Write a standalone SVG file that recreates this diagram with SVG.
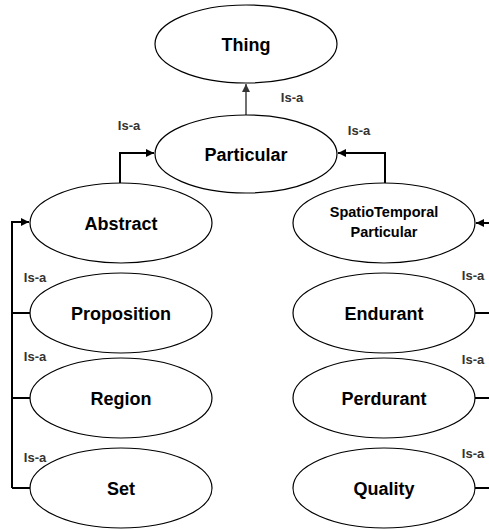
<svg xmlns="http://www.w3.org/2000/svg" width="489" height="529" viewBox="0 0 489 529">
<defs>
<style>
.n ellipse{fill:#fff;stroke:#000;stroke-width:1.2}
.n text{font-family:"Liberation Sans",Arial,sans-serif;font-weight:bold;font-size:18px;fill:#000;text-anchor:middle}
.n text.s{font-size:14.5px}
.c path{fill:none;stroke:#000;stroke-width:2}
.c path.t{stroke:#333;stroke-width:1.4}
.l text{font-family:"Liberation Sans",Arial,sans-serif;font-weight:bold;font-size:13px;fill:#333;text-anchor:middle}
</style>
<marker id="ah" viewBox="0 0 10 10" refX="10" refY="5" markerWidth="4" markerHeight="4" orient="auto" markerUnits="strokeWidth"><path d="M0,0 L10,5 L0,10 z" fill="#000"/></marker>
<marker id="ah2" viewBox="0 0 10 10" refX="10" refY="5" markerWidth="6" markerHeight="6" orient="auto" markerUnits="strokeWidth"><path d="M0,0 L10,5 L0,10 z" fill="#333"/></marker>
</defs>
<g class="c" id="connectors">
<path class="t" d="M246,115 L246,84" marker-end="url(#ah2)"/>
<path d="M120,183 L120,153 L154,153" marker-end="url(#ah)"/>
<path d="M385,183 L385,153 L338,153" marker-end="url(#ah)"/>
<path d="M30,313 L12,313 M30,398 L12,398 M30,488 L12,488 M12,488 L12,222 L29,222" marker-end="url(#ah)"/>
<path d="M475,313 L489,313 M475,398 L489,398 M475,488 L489,488"/>
<path d="M491,223 L476,223" marker-end="url(#ah)"/>
</g>
<g class="l" id="labels">
<text x="292" y="102">Is-a</text>
<text x="129" y="130">Is-a</text>
<text x="359" y="135">Is-a</text>
<text x="35" y="282">Is-a</text>
<text x="35" y="361">Is-a</text>
<text x="35" y="462">Is-a</text>
<text x="473" y="280">Is-a</text>
<text x="473" y="364">Is-a</text>
<text x="473" y="458">Is-a</text>
</g>
<g class="n" id="thing"><ellipse cx="246" cy="44" rx="91" ry="39"/><text x="246" y="51">Thing</text></g>
<g class="n" id="particular"><ellipse cx="246" cy="154" rx="91" ry="39"/><text x="246" y="161">Particular</text></g>
<g class="n" id="abstract"><ellipse cx="121" cy="223" rx="91" ry="40"/><text x="121" y="230">Abstract</text></g>
<g class="n" id="proposition"><ellipse cx="121" cy="313" rx="91" ry="40"/><text x="121" y="320">Proposition</text></g>
<g class="n" id="region"><ellipse cx="121" cy="398" rx="91" ry="40"/><text x="121" y="405">Region</text></g>
<g class="n" id="set"><ellipse cx="121" cy="488" rx="91" ry="40"/><text x="121" y="495">Set</text></g>
<g class="n" id="spatiotemporal"><ellipse cx="384" cy="223" rx="91" ry="40"/><text class="s" x="384" y="217">SpatioTemporal</text><text class="s" x="384" y="237">Particular</text></g>
<g class="n" id="endurant"><ellipse cx="384" cy="313" rx="91" ry="40"/><text x="384" y="320">Endurant</text></g>
<g class="n" id="perdurant"><ellipse cx="384" cy="398" rx="91" ry="40"/><text x="384" y="405">Perdurant</text></g>
<g class="n" id="quality"><ellipse cx="384" cy="488" rx="91" ry="40"/><text x="384" y="495">Quality</text></g>
</svg>
